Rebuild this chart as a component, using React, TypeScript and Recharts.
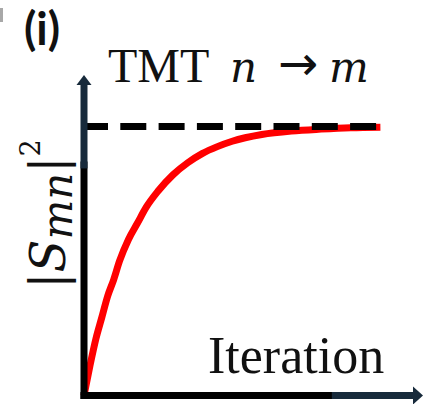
import React from "react";
import { LineChart, Line, XAxis, YAxis, ReferenceLine, Customized } from "recharts";

// iteration steps and the |S_mn|^2 values
const iterations = [0, 2, 4, 6, 8, 10, 12, 15, 18, 21, 25, 30, 35, 40, 45, 50, 60, 70, 80, 90, 100];
const smn = [0, 0.11, 0.21, 0.29, 0.37, 0.43, 0.5, 0.58, 0.64, 0.7, 0.76, 0.82, 0.865, 0.9, 0.925, 0.945, 0.97, 0.983, 0.99, 0.995, 0.997];
// dashed target level
const target = 1;

const data = iterations.map((it, i) => ({ it, s: smn[i], lim: target }));

const NAVY = "#172a3b";

// axis line with optional arrow head at its end
const axisShape = (color: string, head: number, halfW: number) => (props: any) => {
  const { x1, y1, x2, y2 } = props;
  const len = Math.hypot(x2 - x1, y2 - y1) || 1;
  const ux = (x2 - x1) / len;
  const uy = (y2 - y1) / len;
  const tipX = x2 + ux * head;
  const tipY = y2 + uy * head;
  const px = -uy * halfW;
  const py = ux * halfW;
  return (
    <g>
      <line x1={x1} y1={y1} x2={x2} y2={y2} stroke={color} strokeWidth={7} strokeLinecap="square" />
      {head > 0 && (
        <polygon
          points={`${x2 + px},${y2 + py} ${tipX},${tipY} ${x2 - px},${y2 - py}`}
          fill={color}
        />
      )}
    </g>
  );
};

const Labels = () => (
  <g>
    <rect x={0} y={8} width={3} height={14} fill="#a8a8a8" />
    <text x={24} y={45} fontFamily="Lato" fontWeight="bold" fontSize={45} fill="#111">
      (i)
    </text>
    <text x={108} y={82} fontFamily="Liberation Serif" fontSize={48} fill="#111">
      TMT
    </text>
    <text x={230} y={82} fontFamily="DejaVu Serif" fontStyle="italic" fontSize={42} fill="#111">
      n
    </text>
    <text x={278} y={80} fontFamily="DejaVu Sans" fontSize={48} fill="#111">
      →
    </text>
    <text x={329} y={82} fontFamily="DejaVu Serif" fontStyle="italic" fontSize={42} fill="#111">
      m
    </text>
    <text x={208} y={373} fontFamily="Liberation Serif" fontSize={52} fill="#111">
      Iteration
    </text>
    <text transform="translate(65,214) rotate(-90)" textAnchor="middle" fontFamily="DejaVu Serif" fill="#111">
      <tspan fontSize={48}>|</tspan>
      <tspan fontSize={48} fontStyle="italic">S</tspan>
      <tspan fontSize={42} fontStyle="italic" dy={7}>mn</tspan>
      <tspan fontSize={48} dy={-7}>|</tspan>
      <tspan fontSize={27} dy={-25}>2</tspan>
    </text>
  </g>
);

export default function App() {
  return (
    <div style={{ position: "absolute", left: 0, top: 0, background: "#fff" }}>
      <LineChart width={437} height={404} data={data} margin={{ top: 85, right: 24, bottom: 8.5, left: 84 }}>
        <XAxis type="number" dataKey="it" domain={[0, 111]} hide />
        <YAxis type="number" domain={[0, 1.154]} hide />
        <Line
          type="monotone"
          dataKey="s"
          stroke="#ff0000"
          strokeWidth={7}
          dot={false}
          isAnimationActive={false}
        />
        <Line
          type="linear"
          dataKey="lim"
          stroke="#000"
          strokeWidth={7}
          strokeDasharray="26 12.3"
          strokeDashoffset={2}
          dot={false}
          isAnimationActive={false}
        />
        <ReferenceLine
          segment={[{ x: 0, y: 0 }, { x: 84.8, y: 0 }]}
          ifOverflow="visible"
          shape={axisShape("#000", 0, 0)}
        />
        <ReferenceLine
          segment={[{ x: 84.8, y: 0 }, { x: 111, y: 0 }]}
          ifOverflow="visible"
          shape={axisShape(NAVY, 10, 9)}
        />
        <ReferenceLine
          segment={[{ x: 0, y: 0 }, { x: 0, y: 0.857 }]}
          ifOverflow="visible"
          shape={axisShape("#000", 0, 0)}
        />
        <ReferenceLine
          segment={[{ x: 0, y: 0.857 }, { x: 0, y: 1.154 }]}
          ifOverflow="visible"
          shape={axisShape(NAVY, 10, 7.5)}
        />
        <Customized component={Labels} />
      </LineChart>
    </div>
  );
}
